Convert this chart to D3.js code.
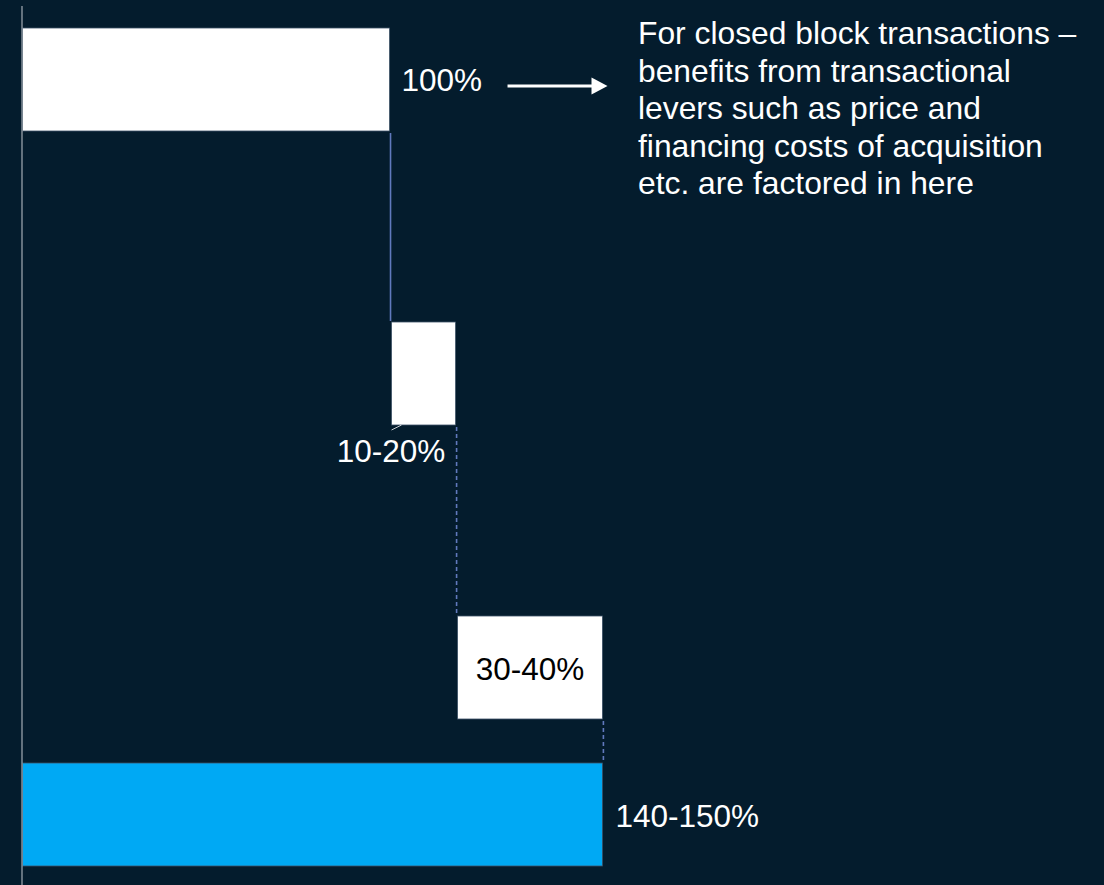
<!DOCTYPE html>
<html>
<head>
<meta charset="utf-8">
<script src="https://cdn.jsdelivr.net/npm/d3@7"></script>
<style>
  html, body { margin: 0; padding: 0; background: #041c2d; }
  svg { display: block; }
  text { font-family: "Liberation Sans", Arial, sans-serif; }
</style>
</head>
<body>
<svg id="chart" width="1104" height="885"></svg>
<script>
// Waterfall steps (percent of base value)
const categories = ["Base", "Transactional levers", "Operational levers", "Total"];
const values = [100, 18, 40, 158];
const kinds = ["start", "step", "step", "total"];
const valueLabels = ["100%", "10-20%", "30-40%", "140-150%"];
// vertical slot of each bar (blank slots leave space for connectors)
const slots = [0, 2, 4, 5];
const noteLines = [
  "For closed block transactions –",
  "benefits from transactional",
  "levers such as price and",
  "financing costs of acquisition",
  "etc. are factored in here"
];

const W = 1104, H = 885;
const bg = "#041c2d", blue = "#00a9f4";
const svg = d3.select("#chart");
svg.append("rect").attr("width", W).attr("height", H).attr("fill", bg);

const x = d3.scaleLinear().domain([0, 158]).range([22.5, 602.4]);
const y = d3.scaleBand().domain(d3.range(6)).range([6, 888])
  .paddingInner(44 / 147).paddingOuter(22 / 147);

// cumulative start/end of each bar
let run = 0;
const bars = categories.map((c, i) => {
  let s, e;
  if (kinds[i] === "step") { s = run; e = run + values[i]; run = e; }
  else { s = 0; e = values[i]; run = e; }
  return { cat: c, start: s, end: e, kind: kinds[i], label: valueLabels[i], slot: slots[i] };
});

// connectors between consecutive bars
const conn = svg.append("g");
bars.slice(0, -1).forEach((b, i) => {
  const nb = bars[i + 1];
  const cx = x(b.end) + 1;
  conn.append("line")
    .attr("x1", cx).attr("x2", cx)
    .attr("y1", y(b.slot) + y.bandwidth() + 2)
    .attr("y2", y(nb.slot) - 1)
    .attr("stroke", "#6179bd").attr("stroke-width", 1.6)
    .attr("stroke-dasharray", i === 0 ? null : "4,3");
});

// bars
svg.append("g").selectAll("rect").data(bars).join("rect")
  .attr("x", d => x(d.start) + (d.kind === "step" ? 2 : 0))
  .attr("y", d => y(d.slot))
  .attr("width", d => x(d.end) - x(d.start) - (d.kind === "step" ? 2 : 0))
  .attr("height", y.bandwidth())
  .attr("fill", d => d.kind === "total" ? blue : "#ffffff")
  .attr("stroke", "#3c5266").attr("stroke-width", 0.8);

// left axis line
svg.append("line")
  .attr("x1", 22).attr("x2", 22).attr("y1", 6).attr("y2", H)
  .attr("stroke", "#8d97a1").attr("stroke-width", 1.4);

// value labels
const fs = 31.5;
const lab = svg.append("g").attr("font-size", fs);
// base: right of bar
lab.append("text").attr("x", x(bars[0].end) + 12)
  .attr("y", y(bars[0].slot) + y.bandwidth() / 2).attr("dy", "0.35em")
  .attr("fill", "#fff").text(bars[0].label);
// first step: below its left edge, with a small leader
const b1 = bars[1];
lab.append("line")
  .attr("x1", x(b1.start) + 2).attr("y1", y(b1.slot) + y.bandwidth() + 5)
  .attr("x2", x(b1.start) + 12).attr("y2", y(b1.slot) + y.bandwidth())
  .attr("stroke", "#c8cdd2").attr("stroke-width", 1);
lab.append("text").attr("x", x(b1.start) + 1.5)
  .attr("y", y(b1.slot) + y.bandwidth() + 37)
  .attr("text-anchor", "middle").attr("fill", "#fff").text(b1.label);
// second step: inside bar
const b2 = bars[2];
lab.append("text").attr("x", (x(b2.start) + 2 + x(b2.end)) / 2)
  .attr("y", y(b2.slot) + y.bandwidth() / 2).attr("dy", "0.4em")
  .attr("text-anchor", "middle").attr("fill", "#000").text(b2.label);
// total: right of bar
const b3 = bars[3];
lab.append("text").attr("x", x(b3.end) + 13)
  .attr("y", y(b3.slot) + y.bandwidth() / 2).attr("dy", "0.4em")
  .attr("fill", "#fff").text(b3.label);

// arrow pointing to note
const ay = y(bars[0].slot) + y.bandwidth() / 2 + 6.5;
const ax0 = x(bars[0].end) + 118, ax1 = ax0 + 100;
svg.append("line").attr("x1", ax0).attr("x2", ax1 - 14)
  .attr("y1", ay).attr("y2", ay).attr("stroke", "#fff").attr("stroke-width", 3);
svg.append("path")
  .attr("d", `M${ax1},${ay} L${ax1 - 16},${ay - 8.5} L${ax1 - 16},${ay + 8.5} Z`)
  .attr("fill", "#fff");

// note text
svg.append("g").attr("font-size", 31.8).attr("fill", "#fff")
  .selectAll("text").data(noteLines).join("text")
  .attr("x", 638).attr("y", (d, i) => 44 + i * 37.5).text(d => d);
</script>
</body>
</html>
